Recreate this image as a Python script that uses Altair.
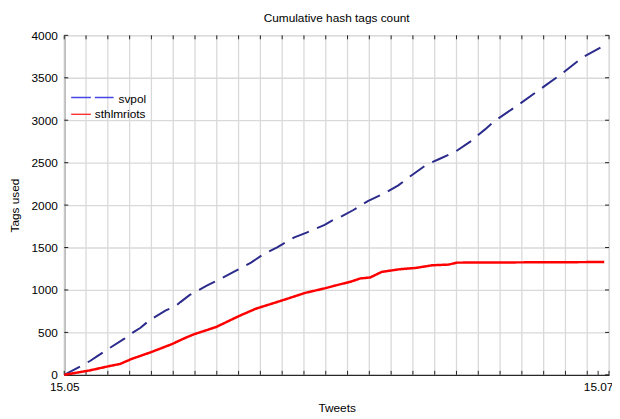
import altair as alt
import pandas as pd

# ---- data (x in grid units, 25 units across) ----
svpol_x = [0, 0.83, 1.2, 1.5, 2.0, 2.78, 3.16, 3.5, 3.91, 4.66, 5.11, 5.33, 5.76, 6.54,
           7.06, 7.86, 8.57, 9.06, 9.77, 10.56, 11.12, 11.95, 12.4, 12.77, 13.27, 13.93,
           14.73, 15.33, 15.93, 16.61, 17.21, 17.96, 18.63, 19.31, 19.74, 20.95, 22.15,
           22.75, 23.8, 24.63]
svpol_y = [0, 113, 166, 217, 302, 430, 500, 555, 643, 760, 810, 857, 942, 1050,
           1116, 1224, 1322, 1407, 1503, 1620, 1675, 1767, 1833, 1872, 1942, 2047,
           2143, 2233, 2349, 2473, 2543, 2631, 2748, 2892, 2988, 3201, 3422,
           3531, 3744, 3860]

riots_x = [0, 1.13, 2.03, 2.56, 3.08, 3.98, 4.96, 5.41, 5.94, 6.54, 6.99, 8.03, 8.79,
           9.99, 11.05, 11.95, 12.4, 13.14, 13.59, 14.04, 14.57, 15.39, 16.14, 16.89,
           17.64, 18.02, 24.78]
riots_y = [0, 50, 101, 128, 186, 267, 364, 419, 477, 527, 566, 694, 779,
           876, 965, 1019, 1050, 1097, 1136, 1147, 1213, 1244, 1260, 1291,
           1299, 1322, 1329]

chart_title = ["Cumulative hash tags count"]
series_names = ["svpol", "sthlmriots"]
series_colors = ["#2b2b8c", "#ff0000"]
series_widths = [2.0, 2.5]
legend_colors = ["#4646e6", "#ff2020"]
x_label_values = [0, 24.5]
x_label_text = ["15.05", "15.07"]
grid_x = list(range(0, 26))
grid_y = list(range(0, 4001, 500))

FONT = "Liberation Sans"
W, H = 552, 344

df = pd.concat([
    pd.DataFrame({"t": svpol_x, "v": svpol_y, "series": series_names[0]}),
    pd.DataFrame({"t": riots_x, "v": riots_y, "series": series_names[1]}),
], ignore_index=True)

x_scale = alt.Scale(domain=[0, 25], nice=False, zero=False)
y_scale = alt.Scale(domain=[0, 4000], nice=False)

label_expr = "datum.value == 0 ? '%s' : '%s'" % (x_label_text[0], x_label_text[1])

x_axis = alt.Axis(values=x_label_values, labelExpr=label_expr, grid=False,
                  tickSize=0, labelPadding=7, title="Tweets", titlePadding=10,
                  domainColor="#000", labelColor="#000", titleColor="#000",
                  labelFont=FONT, titleFont=FONT, labelFontSize=12,
                  titleFontSize=12, titleFontWeight="normal", labelFlush=False,
                  labelOverlap=False)
y_axis = alt.Axis(values=grid_y, format="d", grid=True, gridColor="#d9d9d9", gridWidth=1.3,
                  tickSize=0, labelPadding=7, title="Tags used", titlePadding=10,
                  domainColor="#000", labelColor="#000", titleColor="#000",
                  labelFont=FONT, titleFont=FONT, labelFontSize=12,
                  titleFontSize=12, titleFontWeight="normal")

gx = pd.DataFrame({"g": grid_x})
gy = pd.DataFrame({"h": grid_y})
bx = pd.DataFrame({"g": grid_x + [x_label_values[1]]})

vgrid = alt.Chart(gx).mark_rule(color="#d9d9d9", strokeWidth=1.3).encode(
    x=alt.X("g:Q", scale=x_scale, axis=x_axis)
)

lines = alt.Chart(df).mark_line().encode(
    x=alt.X("t:Q", scale=x_scale, axis=x_axis),
    y=alt.Y("v:Q", scale=y_scale, axis=y_axis),
    color=alt.Color("series:N",
                    scale=alt.Scale(domain=series_names, range=series_colors),
                    legend=None),
    strokeDash=alt.StrokeDash("series:N",
                              scale=alt.Scale(domain=series_names, range=[[18, 9], [1, 0]]),
                              legend=None),
    strokeWidth=alt.StrokeWidth("series:N",
                                scale=alt.Scale(domain=series_names, range=series_widths),
                                legend=None),
)

tick_color = "#222"
top_ticks = alt.Chart(gx).mark_rule(color=tick_color).encode(
    x=alt.X("g:Q", scale=x_scale, axis=x_axis), y=alt.value(0), y2=alt.value(4)
)
bottom_ticks = alt.Chart(bx).mark_rule(color=tick_color).encode(
    x=alt.X("g:Q", scale=x_scale, axis=x_axis), y=alt.value(H - 4), y2=alt.value(H)
)
left_ticks = alt.Chart(gy).mark_rule(color=tick_color).encode(
    y=alt.Y("h:Q", scale=y_scale, axis=y_axis), x=alt.value(0), x2=alt.value(4)
)
right_ticks = alt.Chart(gy).mark_rule(color=tick_color).encode(
    y=alt.Y("h:Q", scale=y_scale, axis=y_axis), x=alt.value(W - 4), x2=alt.value(W)
)

# ---- hand-built legend (top-left inside the plot) ----
leg0 = pd.DataFrame({"series": [series_names[0]]})
leg1 = pd.DataFrame({"series": [series_names[1]]})
leg_line0 = alt.Chart(leg0).mark_rule(color=legend_colors[0], strokeWidth=1.3,
                                      strokeDash=[20, 4]).encode(
    x=alt.value(7), x2=alt.value(50), y=alt.value(63))
leg_line1 = alt.Chart(leg1).mark_rule(color=legend_colors[1], strokeWidth=1.3).encode(
    x=alt.value(7), x2=alt.value(27), y=alt.value(80))
leg_text0 = alt.Chart(leg0).mark_text(font=FONT, fontSize=12, color="#000", align="left",
                                      baseline="middle").encode(
    text="series:N", x=alt.value(55), y=alt.value(65))
leg_text1 = alt.Chart(leg1).mark_text(font=FONT, fontSize=12, color="#000", align="left",
                                      baseline="middle").encode(
    text="series:N", x=alt.value(31), y=alt.value(80))

# ---- title as a text mark above the plot ----
title_mark = alt.Chart(pd.DataFrame({"title": chart_title})).mark_text(
    font=FONT, fontSize=12, color="#000", align="center", baseline="middle"
).encode(text="title:N", x=alt.value(W / 2), y=alt.value(-18))

chart = alt.layer(vgrid, top_ticks, bottom_ticks, left_ticks, right_ticks, lines,
                  leg_line0, leg_line1, leg_text0, leg_text1, title_mark).properties(
    width=W,
    height=H,
    autosize=alt.AutoSizeParams(type="none"),
    padding={"left": 57, "top": 25, "right": 3, "bottom": 38},
).configure_view(stroke="#000", strokeWidth=1).configure(background="white")

chart.save("out.html", embed_options={"renderer": "svg", "actions": False})
